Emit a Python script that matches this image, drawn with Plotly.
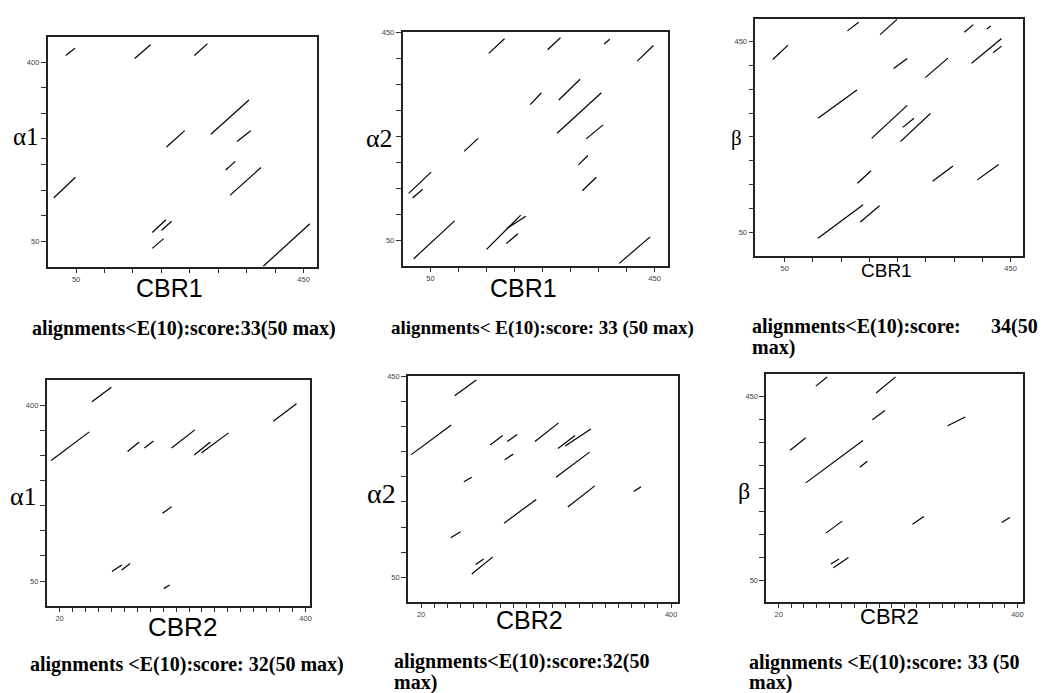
import plotly.graph_objects as go

W, H = 1044, 693

# ---- data: alignment segments (x0, y0, x1, y1) in residue numbers ----
seg_a1_cbr1 = [(32, 413, 48, 427), (153, 407, 181, 434), (258, 413, 281, 436),
               (287, 259, 354, 326), (209, 234, 241, 266), (333, 245, 357, 266),
               (313, 189, 330, 206), (321, 140, 375, 194), (11, 135, 49, 175),
               (184, 67, 208, 92), (200, 71, 218, 89), (184, 36, 204, 55),
               (379, 1, 461, 84)]
seg_a2_cbr1 = [(154, 410, 182, 438), (259, 417, 282, 440), (360, 428, 370, 437),
               (419, 395, 448, 425), (228, 311, 248, 334), (279, 320, 317, 360),
               (276, 256, 355, 334), (328, 245, 358, 272), (314, 195, 331, 213),
               (321, 145, 346, 171), (110, 221, 135, 246), (11, 140, 51, 181),
               (18, 131, 36, 148), (20, 14, 93, 87), (150, 32, 211, 98),
               (186, 72, 220, 96), (185, 43, 206, 62), (387, 5, 442, 56)]
seg_b_cbr1 = [(29, 412, 56, 442), (161, 472, 181, 490), (219, 464, 249, 496),
              (368, 469, 384, 485), (408, 476, 415, 482), (381, 404, 434, 456),
              (419, 426, 434, 440), (243, 393, 267, 414), (299, 374, 339, 415),
              (109, 289, 178, 348), (204, 247, 267, 316), (259, 270, 279, 289),
              (255, 240, 308, 299), (179, 153, 203, 179), (312, 157, 348, 189),
              (391, 160, 429, 192), (109, 38, 189, 108), (184, 72, 218, 106)]
seg_a1_cbr2 = [(70, 407, 100, 436), (7, 290, 66, 347), (125, 308, 143, 327),
               (151, 315, 165, 329), (193, 315, 229, 351), (228, 301, 253, 327),
               (239, 305, 281, 345), (350, 368, 386, 403), (179, 185, 193, 198),
               (101, 69, 116, 82), (116, 72, 129, 85), (181, 35, 190, 42)]
seg_a2_cbr2 = [(71, 411, 104, 442), (5, 294, 66, 353), (125, 313, 144, 332),
               (151, 320, 166, 334), (147, 284, 160, 295), (193, 320, 229, 357),
               (228, 306, 254, 332), (239, 311, 278, 345), (225, 249, 276, 299),
               (85, 240, 97, 249), (243, 190, 284, 232), (343, 221, 354, 230),
               (146, 158, 195, 205), (65, 129, 80, 141), (103, 76, 115, 87),
               (97, 57, 129, 91)]
seg_b_cbr2 = [(79, 472, 97, 492), (175, 457, 206, 492), (169, 399, 189, 419),
              (289, 386, 317, 405), (38, 333, 63, 360), (63, 262, 154, 354),
              (149, 296, 161, 309), (95, 153, 121, 179), (233, 172, 251, 189),
              (375, 176, 388, 187), (103, 86, 116, 97), (107, 78, 131, 100)]

xticks_cbr1 = list(range(50, 451, 50))
xticks_cbr2 = list(range(20, 401, 20))
yticks_400 = list(range(50, 401, 50))
yticks_450 = list(range(50, 451, 50))

y_labels = ["α1", "α2", "β", "α1", "α2", "β"]
x_labels = ["CBR1", "CBR1", "CBR1", "CBR2", "CBR2", "CBR2"]

panels = [
    dict(seg=seg_a1_cbr1, box=(47.7, 317.3, 32.7, 264.3), xr=[0, 473], yr=[0, 450],
         xt=xticks_cbr1, yt=yticks_400),
    dict(seg=seg_a2_cbr1, box=(403.3, 669.3, 27.7, 264.0), xr=[0, 474], yr=[-1, 452],
         xt=xticks_cbr1, yt=yticks_450),
    dict(seg=seg_b_cbr1, box=(756.7, 1025.0, 15.0, 253.3), xr=[-2, 472], yr=[1, 497],
         xt=xticks_cbr1, yt=yticks_450),
    dict(seg=seg_a1_cbr2, box=(46.7, 310.7, 378.3, 605.7), xr=[0, 407], yr=[0, 450],
         xt=xticks_cbr2, yt=yticks_400),
    dict(seg=seg_a2_cbr2, box=(408.7, 679.7, 373.7, 601.7), xr=[0, 411], yr=[1, 451],
         xt=xticks_cbr2, yt=yticks_450),
    dict(seg=seg_b_cbr2, box=(767.7, 1025.0, 372.3, 601.7), xr=[0, 409], yr=[3, 498],
         xt=xticks_cbr2, yt=yticks_450),
]

fig = go.Figure()
layout = dict(width=W, height=H, autosize=False,
              margin=dict(l=0, r=0, t=0, b=0),
              paper_bgcolor="white", plot_bgcolor="white", showlegend=False)

tickfont = dict(family="Liberation Sans", size=7.5, color="#444")

def lab(vals):
    return [str(v) if (v == vals[0] or v == vals[-1]) else "" for v in vals]

for i, p in enumerate(panels, start=1):
    xs, ys = [], []
    for (x0, y0, x1, y1) in p["seg"]:
        xs += [x0, x1, None]
        ys += [y0, y1, None]
    sx = "" if i == 1 else str(i)
    fig.add_trace(go.Scatter(x=xs, y=ys, mode="lines",
                             line=dict(color="black", width=1.2),
                             xaxis="x" + sx, yaxis="y" + sx, hoverinfo="skip"))
    L, R, T, B = p["box"]
    common = dict(showline=True, mirror=True, linecolor="#222", linewidth=1.5,
                  showgrid=False, zeroline=False, ticks="outside", tickcolor="#333",
                  tickwidth=1, tickfont=tickfont, fixedrange=True)
    layout["xaxis" + sx] = dict(domain=[L / W, R / W], range=p["xr"], anchor="y" + sx,
                                tickmode="array", tickvals=p["xt"], ticktext=lab(p["xt"]),
                                ticklen=4, **common)
    layout["yaxis" + sx] = dict(domain=[1 - B / H, 1 - T / H], range=p["yr"], anchor="x" + sx,
                                tickmode="array", tickvals=p["yt"], ticktext=lab(p["yt"]),
                                ticklen=5, **common)

fig.update_layout(**layout)

def ann(text, px, py, size, family, xanchor="center", yanchor="middle", bold=False):
    if bold:
        text = "<b>" + text + "</b>"
    fig.add_annotation(text=text, x=px / W, y=1 - py / H, xref="paper", yref="paper",
                       xanchor=xanchor, yanchor=yanchor, showarrow=False,
                       font=dict(family=family, size=size, color="black"))

serif = "Liberation Serif"
sans = "Liberation Sans"

# y-axis labels
ylab_pos = [(26, 133, 25), (380, 135, 26), (738, 135, 21), (24, 495, 26), (382, 492, 28), (745, 490, 24)]
for t, (px, py, s) in zip(y_labels, ylab_pos):
    ann(t, px, py, s, serif)

# x-axis labels
xlab_pos = [(170, 286, 25), (525, 286, 25), (888, 268, 19), (183, 627, 26), (531, 620, 25), (891, 616, 22)]
for t, (px, py, s) in zip(x_labels, xlab_pos):
    ann(t, px, py, s, sans)

# captions
cap = 20
ann("alignments&lt;E(10):score:33(50 max)", 30, 326, cap, serif, "left", bold=True)
ann("alignments&lt; E(10):score: 33 (50 max)", 390, 326, 19, serif, "left", bold=True)
ann("alignments&lt;E(10):score:", 751, 324, cap, serif, "left", bold=True)
ann("34(50", 1042, 324, cap, serif, "right", bold=True)
ann("max)", 751, 345, cap, serif, "left", bold=True)
ann("alignments &lt;E(10):score: 32(50 max)", 28, 664, cap, serif, "left", bold=True)
ann("alignments&lt;E(10):score:32(50", 393, 661, cap, serif, "left", bold=True)
ann("max)", 393, 682, cap, serif, "left", bold=True)
ann("alignments &lt;E(10):score: 33 (50", 748, 662, cap, serif, "left", bold=True)
ann("max)", 748, 682, cap, serif, "left", bold=True)

fig.write_html("out.html", config={"displayModeBar": False},
               post_script="document.body.style.margin='0';document.body.style.padding='0';")
